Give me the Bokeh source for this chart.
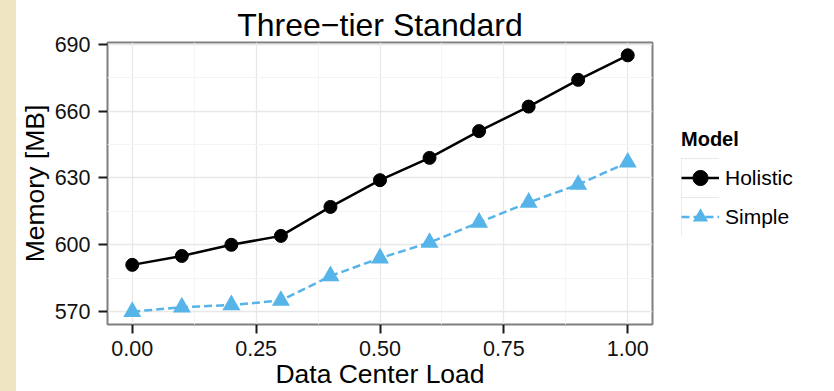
from bokeh.plotting import figure
from bokeh.models import FixedTicker, Legend, LegendItem, Range1d, Spacer
from bokeh.layouts import row
from bokeh.embed import file_html
from bokeh.resources import INLINE

# ---- data ----
load = [0.0, 0.1, 0.2, 0.3, 0.4, 0.5, 0.6, 0.7, 0.8, 0.9, 1.0]
holistic = [591, 595, 600, 604, 617, 629, 639, 651, 662, 674, 685]
simple = [570, 572, 573, 575, 586, 594, 601, 610, 619, 627, 637]
series_names = ["Holistic", "Simple"]
x_ticks = [0, 0.25, 0.5, 0.75, 1]
x_tick_labels = ["0.00", "0.25", "0.50", "0.75", "1.00"]
x_minor = [0.125, 0.375, 0.625, 0.875]
y_ticks = [570, 600, 630, 660, 690]
y_minor = [585, 615, 645, 675]

FONT = "Liberation Sans"
BLUE = "#56B4E9"
BEIGE = "#f0e5c2"

p = figure(frame_width=545, frame_height=282,
           x_range=Range1d(-0.05, 1.05), y_range=Range1d(564.25, 690.75),
           output_backend="svg", toolbar_location=None,
           min_border_left=89, min_border_right=184,
           min_border_top=42, min_border_bottom=67,
           title="Three\u2212tier Standard")

p.title.align = "center"
p.title.text_font = FONT
p.title.text_font_size = "32px"
p.title.text_font_style = "normal"
p.title.text_color = "#000000"
p.title.standoff = 0

p.background_fill_color = "white"
p.border_fill_color = "white"
p.outline_line_color = "#7f7f7f"
p.outline_line_width = 2

p.xaxis.ticker = FixedTicker(ticks=x_ticks, minor_ticks=x_minor)
p.xaxis.major_label_overrides = dict(zip(x_ticks, x_tick_labels))
p.yaxis.ticker = FixedTicker(ticks=y_ticks, minor_ticks=y_minor)

for ax in (p.xaxis, p.yaxis):
    ax.axis_line_color = None
    ax.major_tick_line_color = "#1a1a1a"
    ax.major_tick_line_width = 2
    ax.major_tick_in = 0
    ax.major_tick_out = 9
    ax.minor_tick_line_color = None
    ax.major_label_text_font = FONT
    ax.major_label_text_font_size = "21.5px"
    ax.major_label_text_color = "#111111"
    ax.axis_label_text_font = FONT
    ax.axis_label_text_font_size = "26.5px"
    ax.axis_label_text_font_style = "normal"
    ax.axis_label_text_color = "#000000"

p.xaxis.axis_label = "Data Center Load"
p.yaxis.axis_label = "Memory [MB]"
p.xaxis.major_label_standoff = 7
p.xaxis.axis_label_standoff = 0
p.yaxis.major_label_standoff = 8
p.yaxis.axis_label_standoff = 2

for g in (p.xgrid, p.ygrid):
    g.grid_line_color = "#e8e8e8"
    g.grid_line_width = 1.3
    g.minor_grid_line_color = "#f4f4f4"
    g.minor_grid_line_width = 1

# ---- series ----
h_line = p.line(load, holistic, line_color="black", line_width=2.5)
h_pts = p.scatter(load, holistic, marker="circle", size=13,
                  fill_color="black", line_color="black")
s_line = p.line(load, simple, line_color=BLUE, line_width=2.5, line_dash="8 4")
s_pts = p.scatter(load, simple, marker="triangle", size=18,
                  fill_color=BLUE, line_color=None)

# legend key boxes (legend-only renderers, nothing drawn in the plot)
nan = [float("nan")]
def key_box():
    under = p.rect(x=nan, y=nan, width=1, height=1, fill_color="#d0d0d0",
                   line_color="#d0d0d0", line_width=10.8, line_join="miter")
    over = p.rect(x=nan, y=nan, width=1, height=1, fill_color="white",
                  line_color="white", line_width=7.8, line_join="miter")
    return [under, over]

legend = Legend(items=[
    LegendItem(label=series_names[0], renderers=key_box() + [h_line, h_pts]),
    LegendItem(label=series_names[1], renderers=key_box() + [s_line, s_pts]),
], location=(29, 88))
legend.title = "Model"
legend.title_text_font = FONT
legend.title_text_font_style = "bold"
legend.title_text_font_size = "20px"
legend.title_text_color = "#000000"
legend.title_standoff = 7
legend.label_text_font = FONT
legend.label_text_font_size = "21px"
legend.label_text_color = "#000000"
legend.label_standoff = 6
legend.glyph_width = 38
legend.glyph_height = 39
legend.spacing = 0
legend.padding = 8
legend.margin = 0
legend.border_line_color = None
legend.background_fill_alpha = 0
p.add_layout(legend, "right")

edge = Spacer(width=16, height=391, styles={"background-color": BEIGE})
layout = row(edge, p, spacing=0)

open("out.html", "w").write(file_html(layout, INLINE))
